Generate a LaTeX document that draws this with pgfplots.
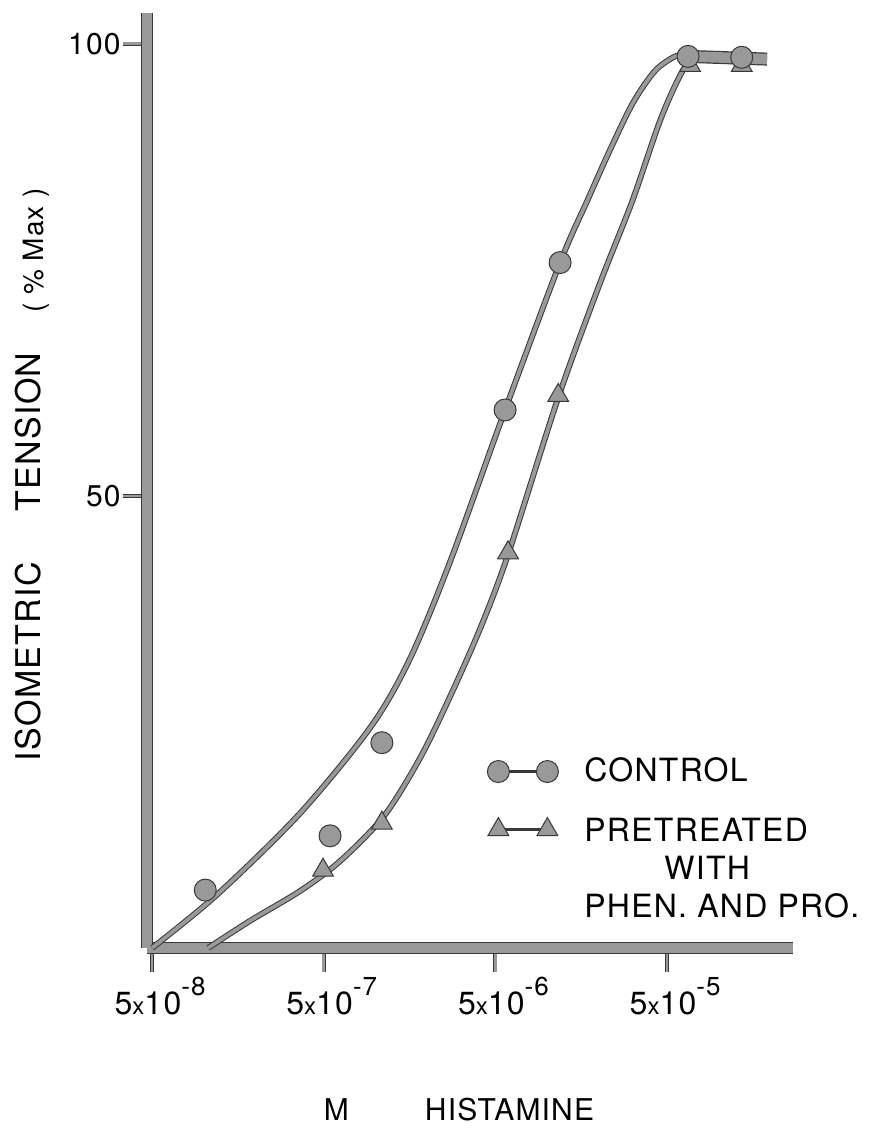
\documentclass[border=0pt]{standalone}
\usepackage{pgfplots}
\pgfplotsset{compat=1.18}
\usepackage{pgfplotstable}
\usepackage{fontspec}
\setmainfont{TeX Gyre Heros}[LetterSpace=4]
\definecolor{inkdark}{gray}{0.22}
\definecolor{inkfill}{gray}{0.6}
\newcommand\smallx{{\fontsize{12}{12}\selectfont x}}
\newcommand\expo[1]{\raisebox{9.4pt}{\fontsize{13}{13}\selectfont #1}}
\pgfplotsset{dumbbell/.style={legend image code/.code={%
  \draw[inkdark, line width=1.3pt] (0pt,0pt) -- (24.5pt,0pt);
  \draw[##1] plot coordinates {(0pt,0pt) (24.5pt,0pt)};}}}

% fitted curve (x in M, y in % max)
\pgfplotstableread{
x y
5e-8 0
1.196e-7 5.9
3.64e-7 14.9
9.43e-7 24.5
1.590e-6 32.0
2.720e-6 42.7
5.69e-6 59.5
1.19e-5 75.8
1.71e-5 82.6
2.33e-5 88.3
3.17e-5 93.5
4.25e-5 97.0
5.56e-5 98.6
6.62e-5 98.8
}\controlcurve

\pgfplotstableread{
x y
1.06e-7 0
1.861e-7 3.0
3.64e-7 6.3
6.22e-7 9.6
1.122e-6 14.6
1.819e-6 21.0
2.720e-6 27.8
4.068e-6 35.3
5.92e-6 43.5
1.158e-5 60.8
2.03e-5 73.5
3.12e-5 82.5
4.55e-5 91.5
5.95e-5 96.5
6.98e-5 98.3
}\pretreatedcurve

\pgfplotstableread{
x y
1.02e-7 6.4
5.44e-7 12.4
1.09e-6 22.7
5.69e-6 59.5
1.19e-5 75.8
6.62e-5 98.6
1.36e-4 98.5
}\controlpts

\pgfplotstableread{
x y
4.95e-7 8.6
1.09e-6 13.8
5.92e-6 43.7
1.16e-5 61.1
6.80e-5 97.6
1.36e-4 97.6
}\pretreatedpts

\pgfplotstableread{
x y
6.62e-5 98.6
1.91e-4 98.3
}\plateau

\begin{document}
\begin{tikzpicture}
\begin{axis}[
  scale only axis,
  width=323pt, height=467.5pt,
  xmode=log,
  xmin=4.67e-8, xmax=2.705e-4,
  ymin=0, ymax=103.4,
  clip=false,
  axis lines=left,
  axis line style={-, draw=inkdark, line width=0.6pt, double=inkfill, double distance=4.8pt},
  xtick={5e-8,5e-7,5e-6,5e-5},
  xticklabels={{5\smallx10\expo{-8}},{5\smallx10\expo{-7}},{5\smallx10\expo{-6}},{5\smallx10\expo{-5}}},
  ytick={50,100},
  yticklabels={50,100},
  xminorticks=false,
  yminorticks=false,
  tick align=outside,
  major tick length=12pt,
  tick style={draw=inkdark, line width=0.35pt, double=inkfill, double distance=1.3pt},
  xticklabel style={font=\fontsize{16}{16}\selectfont, inner sep=0pt, yshift=-2.5pt, xshift=4pt},
  yticklabel style={font=\fontsize{15}{15}\selectfont, inner sep=0pt, xshift=-1pt},
  xlabel={M\hspace{38pt}HISTAMINE},
  xlabel style={at={(axis description cs:0.483,-0.173)}, anchor=center, font=\fontsize{15}{15}\selectfont},
  ylabel={ISOMETRIC\hspace{25pt}TENSION\hspace{20pt}\raisebox{-1.5pt}{\fontsize{14}{14}\selectfont(\hspace{4.3pt}\%\hspace{4.3pt}Max\hspace{4.3pt})}},
  ylabel style={at={(axis description cs:-0.1656,0.506)}, anchor=base, font=\fontsize{17}{17}\selectfont},
  legend style={draw=none, fill=none, at={(axis description cs:0.5263,0.2035)}, anchor=north west,
    font=\fontsize{16}{19}\selectfont, inner sep=0pt, nodes={inner sep=0pt},
    row sep={29pt,between origins}, column sep=13pt},
  legend cell align=left,
]
% fitted curves
\addplot[forget plot, smooth, draw=inkdark, line width=0.5pt, double=inkfill, double distance=1.9pt] table {\controlcurve};
\addplot[forget plot, smooth, draw=inkdark, line width=0.5pt, double=inkfill, double distance=1.9pt] table {\pretreatedcurve};
% heavy plateau line
\addplot[forget plot, draw=inkdark, line width=0.6pt, double=inkfill, double distance=5.3pt] table {\plateau};
% data points
\addplot[forget plot, only marks, mark=triangle*, mark size=6pt, mark options={fill=inkfill, draw=inkdark, line width=0.5pt}] table {\pretreatedpts};
\addplot[forget plot, only marks, mark=*, mark size=5.5pt, mark options={fill=inkfill, draw=inkdark, line width=0.5pt}] table {\controlpts};
% legend
\addlegendimage{only marks, mark=*, mark size=5.5pt, mark options={fill=inkfill, draw=inkdark, line width=0.5pt}, dumbbell}
\addlegendentry{CONTROL}
\addlegendimage{only marks, mark=triangle*, mark size=6pt, mark options={fill=inkfill, draw=inkdark, line width=0.5pt}, dumbbell}
\addlegendentry{\begin{tabular}[t]{@{}l@{}}PRETREATED\\\hspace*{40pt}WITH\\PHEN. AND PRO.\end{tabular}}
\coordinate (BBsw) at (rel axis cs:-0.2276,-0.1979);
\coordinate (BBne) at (rel axis cs:1.1471,1.0139);
\end{axis}
\pgfresetboundingbox
\path (BBsw) rectangle (BBne);
\end{tikzpicture}
\end{document}
